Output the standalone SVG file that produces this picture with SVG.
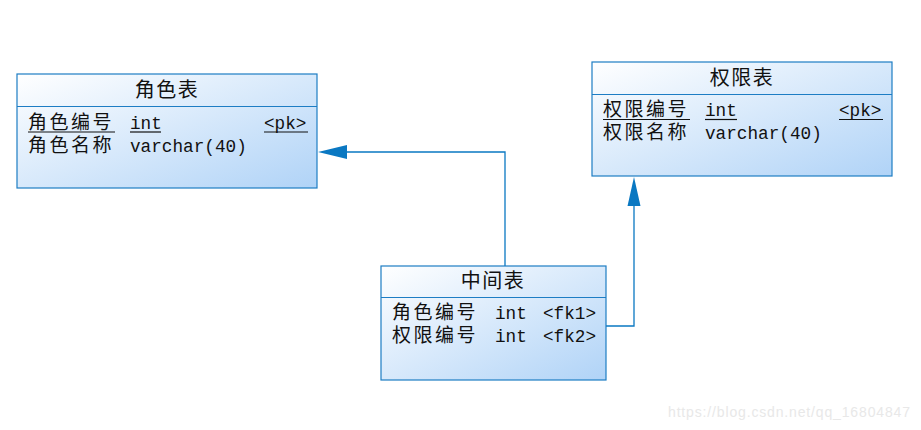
<svg xmlns="http://www.w3.org/2000/svg" width="921" height="430" viewBox="0 0 921 430">
<defs>
<linearGradient id="g" x1="0" y1="0" x2="1" y2="1">
<stop offset="0" stop-color="#ffffff"/>
<stop offset="1" stop-color="#b0d3f7"/>
</linearGradient>
<style>
.box{fill:url(#g);stroke:#1d7dc4;stroke-width:1.2}
.div{stroke:#1d7dc4;stroke-width:1.2}
.t{font-family:"Noto Sans CJK SC","Liberation Sans",sans-serif;font-size:19px;fill:#111;letter-spacing:2.5px}
.title{text-anchor:middle;letter-spacing:1.5px;font-size:20px}
.m{font-family:"Liberation Mono","DejaVu Sans Mono",monospace;font-size:17.7px;fill:#111}
.u{stroke:#111;stroke-width:1.2}
.c{fill:none;stroke:#0a78c2;stroke-width:1.3}
.wm{font-family:"Liberation Sans",Arial,sans-serif;font-size:14px;fill:#e8e8e8}
</style>
</defs>
<rect width="921" height="430" fill="#ffffff"/>
<g id="connectors">
<path class="c" d="M505,266 V152 H347"/>
<path d="M318,152 L347,145 L347,159 Z" fill="#0a78c2"/>
<path class="c" d="M606,326 H634 V206"/>
<path d="M634,177 L627.5,206 L640.5,206 Z" fill="#0a78c2"/>
</g>
<g id="role">
<rect class="box" x="17" y="74" width="300" height="114"/>
<line class="div" x1="17" y1="106.5" x2="317" y2="106.5"/>
<text class="t title" x="167" y="97">角色表</text>
<text class="t" x="28" y="129">角色编号</text>
<text class="m" x="130" y="129">int</text>
<text class="m" x="264" y="129">&lt;pk&gt;</text>
<line class="u" x1="28" y1="132" x2="115" y2="132"/>
<line class="u" x1="130" y1="132" x2="161" y2="132"/>
<line class="u" x1="264" y1="132" x2="308" y2="132"/>
<text class="t" x="28" y="152">角色名称</text>
<text class="m" x="130" y="152">varchar(40)</text>
</g>
<g id="permission">
<rect class="box" x="592" y="62" width="300" height="114"/>
<line class="div" x1="592" y1="94.5" x2="892" y2="94.5"/>
<text class="t title" x="742" y="85">权限表</text>
<text class="t" x="603" y="116">权限编号</text>
<text class="m" x="705" y="116">int</text>
<text class="m" x="839" y="116">&lt;pk&gt;</text>
<line class="u" x1="603" y1="119.5" x2="690" y2="119.5"/>
<line class="u" x1="705" y1="119.5" x2="737" y2="119.5"/>
<line class="u" x1="839" y1="119.5" x2="883" y2="119.5"/>
<text class="t" x="603" y="139">权限名称</text>
<text class="m" x="705" y="139">varchar(40)</text>
</g>
<g id="middle">
<rect class="box" x="381" y="266" width="225" height="114"/>
<line class="div" x1="381" y1="297.5" x2="606" y2="297.5"/>
<text class="t title" x="493" y="288">中间表</text>
<text class="t" x="392" y="319">角色编号</text>
<text class="m" x="495" y="319">int</text>
<text class="m" x="543" y="319">&lt;fk1&gt;</text>
<text class="t" x="392" y="342">权限编号</text>
<text class="m" x="495" y="342">int</text>
<text class="m" x="543" y="342">&lt;fk2&gt;</text>
</g>
<text class="wm" x="668" y="417" textLength="242">https://blog.csdn.net/qq_16804847</text>
</svg>
